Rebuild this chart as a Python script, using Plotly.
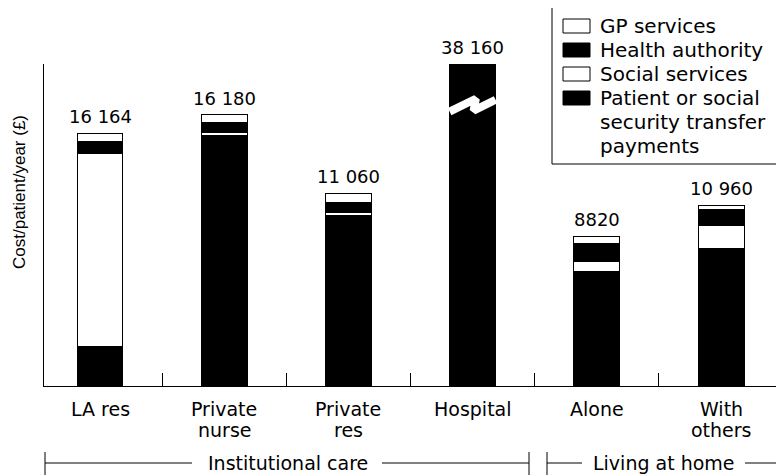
import plotly.graph_objects as go

# ---------------- data ----------------
categories = ["LA res", "Private\nnurse", "Private\nres", "Hospital", "Alone", "With\nothers"]
total_labels = ["16 164", "16 180", "11 060", "38 160", "8820", "10 960"]
series_names = ["GP services", "Health authority", "Social services",
                "Patient or social\nsecurity transfer\npayments"]
# segment values (£/patient/year); hospital bar is drawn truncated (axis break)
patient = [2400, 15060, 10260, None, 6900, 8280]
social = [11580, 150, 180, None, 600, 1380]
health = [720, 600, 600, 19320, 1080, 960]
gp = [480, 480, 540, None, 420, 240]
groups = ["Institutional care", "Living at home"]

# page offset (browser body margin)
O = 8
W, H = 784 - O, 475 - O
L, R, T, B = 44 - O, 1, 64 - O, 475 - 386
pw, ph = W - L - R, H - T - B
YMAX = 19320
XR = [-0.451, 5.499]
FONT = "DejaVu Sans"
INK = "#000000"


def px(xs_):
    # screen pixel x -> paper
    return (xs_ - O - L) / pw


def py(ys_):
    # screen pixel y -> paper
    return (H - B - (ys_ - O)) / ph


xs = list(range(len(categories)))
bw = 0.37
fig = go.Figure()
stack = [("Patient", patient, INK), ("Social", social, "white"),
         ("Health", health, INK), ("GP", gp, "white")]
for name, vals, col in stack:
    fig.add_trace(go.Bar(x=xs, y=vals, name=name, width=bw,
                         marker=dict(color=col, line=dict(color=INK, width=1)),
                         showlegend=False, hoverinfo="skip"))

tops = []
for i in range(len(xs)):
    tops.append(sum(v[i] for v in (patient, social, health, gp) if v[i] is not None))

for i, lab in enumerate(total_labels):
    fig.add_annotation(x=xs[i], y=tops[i], text=lab, showarrow=False,
                       yanchor="bottom", yshift=4,
                       font=dict(family=FONT, size=18, color=INK))

# category labels (two-line, tight spacing)
for i, cat in enumerate(categories):
    for j, line in enumerate(cat.split("\n")):
        fig.add_annotation(x=xs[i], y=py(409 + 21 * j), yref="paper", text=line,
                           showarrow=False, xanchor="center", yanchor="middle",
                           font=dict(family=FONT, size=19, color=INK))

# axis-break zigzag on the hospital bar
hi = 3
hb = health[hi]
fig.add_trace(go.Scatter(
    x=[hi - bw / 2, hi + 0.026, hi + 0.008, hi + bw / 2],
    y=[hb * 0.852, hb * 0.892, hb * 0.855, hb * 0.889],
    mode="lines", line=dict(color="white", width=8),
    showlegend=False, hoverinfo="skip"))

# overlay axis for boundary ticks
fig.add_trace(go.Scatter(x=[0], y=[0], xaxis="x2", mode="markers",
                         marker=dict(opacity=0), showlegend=False, hoverinfo="skip"))

shapes = []
# custom legend
shapes.append(dict(type="rect", xref="paper", yref="paper",
                   x0=px(552), x1=px(780), y0=py(164), y1=py(4),
                   line=dict(color=INK, width=1), fillcolor="white", layer="above"))
cols = ["white", INK, "white", INK]
row_y = [26, 50, 74, 98]
for k, nm in enumerate(series_names):
    yc = row_y[k]
    shapes.append(dict(type="rect", xref="paper", yref="paper",
                       x0=px(563), x1=px(590), y0=py(yc + 7), y1=py(yc - 7),
                       line=dict(color=INK, width=1), fillcolor=cols[k], layer="above"))
    for j, line in enumerate(nm.split("\n")):
        fig.add_annotation(xref="paper", yref="paper", x=px(598), y=py(yc + 24 * j),
                           text=line, showarrow=False, xanchor="left", yanchor="middle",
                           font=dict(family=FONT, size=20, color=INK))

# group brackets
gy = 463
brackets = [
    (45, 529, 192, 382, 288, groups[0]),
    (547, 790, 582, 745, 664, groups[1]),
]
for x0, x1, gl, gr, tc, txt in brackets:
    for xv in (x0, x1):
        if xv < 784:
            shapes.append(dict(type="line", xref="paper", yref="paper",
                               x0=px(xv), x1=px(xv), y0=py(452), y1=py(476),
                               line=dict(color=INK, width=1)))
    shapes.append(dict(type="line", xref="paper", yref="paper",
                       x0=px(x0), x1=px(gl), y0=py(gy), y1=py(gy), line=dict(color=INK, width=1)))
    shapes.append(dict(type="line", xref="paper", yref="paper",
                       x0=px(gr), x1=px(x1), y0=py(gy), y1=py(gy), line=dict(color=INK, width=1)))
    fig.add_annotation(xref="paper", yref="paper", x=px(tc), y=py(gy), text=txt,
                       showarrow=False, xanchor="center", yanchor="middle",
                       font=dict(family=FONT, size=19, color=INK))

# y-axis title
fig.add_annotation(xref="paper", yref="paper", x=px(19), y=py(192),
                   text="Cost/patient/year (£)", textangle=-90, showarrow=False,
                   xanchor="center", yanchor="middle",
                   font=dict(family="Liberation Sans", size=17, color=INK))

fig.update_layout(
    width=W, height=H, autosize=False,
    margin=dict(l=L, r=R, t=T, b=B),
    paper_bgcolor="white", plot_bgcolor="white",
    barmode="stack", shapes=shapes,
    xaxis=dict(range=XR, tickmode="array", tickvals=xs, showticklabels=False,
               ticks="", showline=True, linecolor=INK, linewidth=1,
               showgrid=False, zeroline=False),
    xaxis2=dict(range=XR, overlaying="x", side="bottom", anchor="y",
                tickmode="array", tickvals=[0.5, 1.5, 2.5, 3.5, 4.5],
                ticks="inside", ticklen=13, tickcolor=INK, tickwidth=1,
                showticklabels=False, showgrid=False, zeroline=False, showline=False),
    yaxis=dict(range=[0, YMAX], showline=True, linecolor=INK, linewidth=1,
               showticklabels=False, ticks="", showgrid=False, zeroline=False),
)

fig.write_html("out.html")
